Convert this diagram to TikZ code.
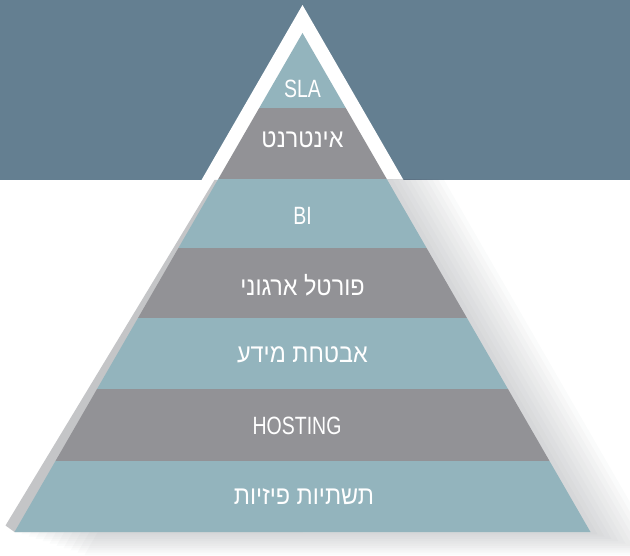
\documentclass[tikz,border=0pt]{standalone}
\usepackage{fontspec}
\TeXXeTstate=1
\newfontfamily\hfont[Script=Hebrew,FakeStretch=0.9]{Liberation Sans}
\newfontfamily\lfont[FakeStretch=0.78]{Liberation Sans}
\definecolor{bandc}{HTML}{647F91}
\definecolor{tealc}{HTML}{93B4BD}
\definecolor{grayc}{HTML}{929296}
\definecolor{lshadow}{HTML}{C4C5C7}
\definecolor{softshadow}{HTML}{3C424A}
\begin{document}
\begin{tikzpicture}[x=1pt,y=-1pt,
  lbl/.style={text=white,inner sep=0pt,font=\lfont\fontsize{25}{28}\selectfont},
  hlbl/.style={text=white,inner sep=0pt,font=\hfont\fontsize{26}{28}\selectfont}]
\useasboundingbox (0,0) rectangle (630,556);
% top band
\fill[bandc] (0,0) rectangle (630,180);
% white border of pyramid inside the band
\fill[white] (302.5,5) -- (403.5,180) -- (201.5,180) -- cycle;
% soft shadow right and below
\begin{scope}
  \clip (0,180) rectangle (630,556);
  \foreach \k in {1,...,10}{
    \fill[softshadow,opacity=0.022,shift={(\k*7,\k*2.3)}] (302.5,33) -- (590.5,532) -- (14.5,532) -- cycle;
  }
\end{scope}
% left hard shadow
\fill[lshadow] (214.5,180) -- (5.5,525.5) -- (14.5,532) -- (302.5,532) -- (302.5,180) -- cycle;
% pyramid layers
\begin{scope}
  \clip (302.5,33) -- (590.5,532) -- (14.5,532) -- cycle;
  \fill[tealc] (0,30) rectangle (630,108);
  \fill[grayc] (0,108) rectangle (630,179.5);
  \fill[tealc] (0,179.5) rectangle (630,248);
  \fill[grayc] (0,248) rectangle (630,318);
  \fill[tealc] (0,318) rectangle (630,389);
  \fill[grayc] (0,389) rectangle (630,461);
  \fill[tealc] (0,461) rectangle (630,533);
\end{scope}
% labels
\node[lbl]  (sla)  at (302.5,89)  {SLA};
\node[hlbl] (net)  at (302.5,140) {\beginR אינטרנט\endR};
\node[lbl]  (bi)   at (302.5,216) {BI};
\node[hlbl] (port) at (302.5,285) {\beginR פורטל ארגוני\endR};
\node[hlbl] (sec)  at (302.5,355) {\beginR אבטחת מידע\endR};
\node[lbl]  (host) at (297,426) {HOSTING};
\node[hlbl] (phys) at (304,497) {\beginR תשתיות פיזיות\endR};
\end{tikzpicture}
\end{document}
